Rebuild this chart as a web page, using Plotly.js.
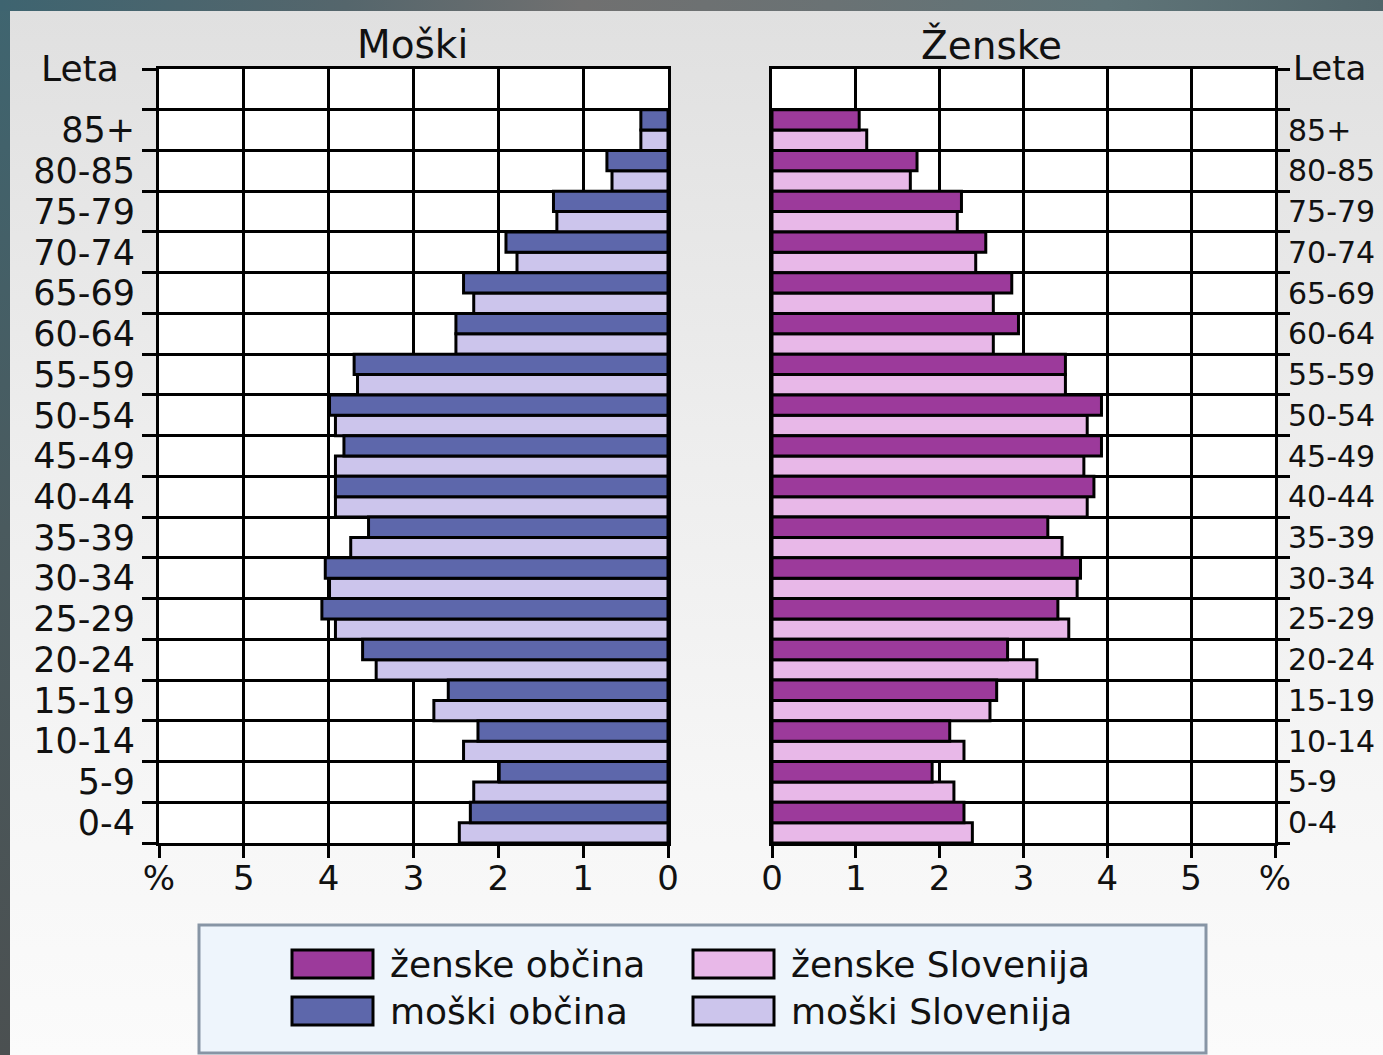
<!DOCTYPE html>
<html>
<head>
<meta charset="utf-8">
<script src="https://cdn.plot.ly/plotly-3.0.1.min.js"></script>
<style>
  html, body { margin: 0; padding: 0; }
  #wrap { position: relative; width: 1383px; height: 1055px; overflow: hidden;
          background: linear-gradient(180deg, #3f6570 0%, #4a5a5e 50%, #4b5051 100%); }
  #topstrip { position: absolute; left: 0; top: 0; width: 1383px; height: 11px;
          background: linear-gradient(90deg, #3e6470 0%, #55666c 25%, #707070 42%, #6a7274 60%, #5f7478 80%, #51656a 100%); }
  #panel { position: absolute; left: 10px; top: 11px; width: 1373px; height: 1044px;
          background: linear-gradient(180deg, #e0e0e0 0%, #ededed 40%, #f6f6f6 75%, #fbfbfb 100%); }
  #chart { position: absolute; left: 0; top: 0; width: 1383px; height: 1055px; }
</style>
</head>
<body>
<div id="wrap"><div id="topstrip"></div><div id="panel"></div><div id="chart"></div></div>
<script>
// ---- data (ordered from youngest to oldest) ----
const ageGroups = ['0-4','5-9','10-14','15-19','20-24','25-29','30-34','35-39','40-44','45-49','50-54','55-59','60-64','65-69','70-74','75-79','80-85','85+'];
const moskiObcina     = [2.33,1.99,2.24,2.59,3.60,4.08,4.04,3.53,3.92,3.82,3.99,3.70,2.50,2.41,1.91,1.35,0.72,0.32];
const moskiSlovenija  = [2.46,2.29,2.41,2.76,3.44,3.92,3.99,3.74,3.92,3.92,3.92,3.66,2.50,2.29,1.78,1.31,0.66,0.32];
const zenskeObcina    = [2.29,1.91,2.12,2.68,2.81,3.41,3.68,3.29,3.84,3.93,3.93,3.50,2.94,2.86,2.55,2.26,1.73,1.04];
const zenskeSlovenija = [2.39,2.17,2.29,2.60,3.16,3.54,3.64,3.46,3.76,3.72,3.76,3.50,2.64,2.64,2.43,2.21,1.65,1.13];
const xTickVals   = [0,1,2,3,4,5,6];
const xTickText   = ['0','1','2','3','4','5','%'];
const panelTitles = ['Moški','Ženske'];
const axisTitle   = 'Leta';
const legendLabels = ['ženske občina','moški občina','ženske Slovenija','moški Slovenija'];

// ---- styling ----
const W = 1383, H = 1055;
const FONT = 'DejaVu Sans, Verdana, sans-serif';
const TXT = '#111111';
const C = { zOb: '#9c3a9b', zSl: '#e8b8e8', mOb: '#5d67ab', mSl: '#ccc5ec' };
const px = x => x / W;
const py = y => 1 - y / H;

const yIdx = ageGroups.map((_, i) => i);

function bar(values, color, xa, ya) {
  return { type: 'bar', orientation: 'h', x: values, y: yIdx, xaxis: xa, yaxis: ya,
           marker: { color: color, line: { color: '#000', width: 3 } },
           showlegend: false, hoverinfo: 'skip' };
}
// first trace in a group sits lower, so Slovenija first, občina on top
const data = [
  bar(moskiSlovenija, C.mSl, 'x', 'y'),
  bar(moskiObcina, C.mOb, 'x', 'y'),
  bar(zenskeSlovenija, C.zSl, 'x2', 'y2'),
  bar(zenskeObcina, C.zOb, 'x2', 'y2')
];

const yDomain = [py(843), py(69)];
function xAxis(domain, range, anchor) {
  return { domain: domain, range: range, anchor: anchor, automargin: false,
           tickmode: 'array', tickvals: xTickVals, ticktext: xTickText,
           showgrid: true, gridcolor: '#000', gridwidth: 3, zeroline: false,
           showline: true, linecolor: '#000', linewidth: 3, mirror: true,
           ticks: 'outside', ticklen: 12, tickwidth: 3, tickcolor: '#000',
           ticklabelstandoff: -9,
           tickfont: { family: FONT, size: 34, color: TXT }, fixedrange: true };
}
function yAxis(side, anchor) {
  const left = side === 'left';
  return { domain: yDomain, range: [-0.5, ageGroups.length + 0.5], anchor: anchor, side: side,
           automargin: false, tickmode: 'array', tickvals: yIdx, ticktext: ageGroups,
           ticks: 'outside', ticklen: left ? 14 : 4, tickcolor: 'rgba(0,0,0,0)',
           ticklabelstandoff: 0,
           showgrid: false, zeroline: false,
           showline: true, linecolor: '#000', linewidth: 3, mirror: true,
           minor: { tickmode: 'linear', tick0: -0.5, dtick: 1, ticks: 'outside',
                    ticklen: left ? 14 : 12, tickwidth: 3, tickcolor: '#000',
                    showgrid: true, gridcolor: '#000', gridwidth: 3 },
           tickfont: { family: FONT, size: left ? 35 : 30, color: TXT }, fixedrange: true };
}

const annotations = [
  { text: panelTitles[0], x: px(412), y: py(45), size: 39 },
  { text: panelTitles[1], x: px(991), y: py(45), size: 39 },
  { text: axisTitle, x: px(121), y: py(68), xanchor: 'right', size: 36 },
  { text: axisTitle, x: px(1291), y: py(68), xanchor: 'left', size: 34 },
  { text: legendLabels[0], x: px(388), y: py(964), xanchor: 'left', size: 36 },
  { text: legendLabels[1], x: px(388), y: py(1011), xanchor: 'left', size: 36 },
  { text: legendLabels[2], x: px(789), y: py(964), xanchor: 'left', size: 36 },
  { text: legendLabels[3], x: px(789), y: py(1011), xanchor: 'left', size: 36 }
].map(a => ({ xref: 'paper', yref: 'paper', x: a.x, y: a.y, text: a.text,
              xanchor: a.xanchor || 'center', yanchor: 'middle', showarrow: false,
              font: { family: FONT, size: a.size || 33, color: TXT } }));

const swatches = [
  { x0: 292, y0: 950, c: C.zOb }, { x0: 292, y0: 997, c: C.mOb },
  { x0: 693, y0: 950, c: C.zSl }, { x0: 693, y0: 997, c: C.mSl }
];
const shapes = [
  { type: 'rect', xref: 'paper', yref: 'paper', x0: px(199), x1: px(1206), y0: py(1053), y1: py(925),
    fillcolor: '#eef5fc', line: { color: '#8795a5', width: 3 }, layer: 'below' }
].concat(swatches.map(s => ({ type: 'rect', xref: 'paper', yref: 'paper',
    x0: px(s.x0), x1: px(s.x0 + 81), y0: py(s.y0 + 28), y1: py(s.y0),
    fillcolor: s.c, line: { color: '#000', width: 3 } })));

const layout = {
  width: W, height: H, margin: { l: 0, r: 0, t: 0, b: 0, autoexpand: false },
  paper_bgcolor: 'rgba(0,0,0,0)', plot_bgcolor: '#ffffff',
  barmode: 'group', bargap: 0, bargroupgap: 0,
  showlegend: false,
  xaxis: xAxis([px(159), px(668)], [6, 0], 'y'),
  yaxis: yAxis('left', 'x'),
  xaxis2: xAxis([px(772), px(1275)], [0, 6], 'y2'),
  yaxis2: yAxis('right', 'x2'),
  annotations: annotations, shapes: shapes,
  font: { family: FONT, color: TXT }
};

Plotly.newPlot('chart', data, layout, { displayModeBar: false, staticPlot: true });
</script>
</body>
</html>
